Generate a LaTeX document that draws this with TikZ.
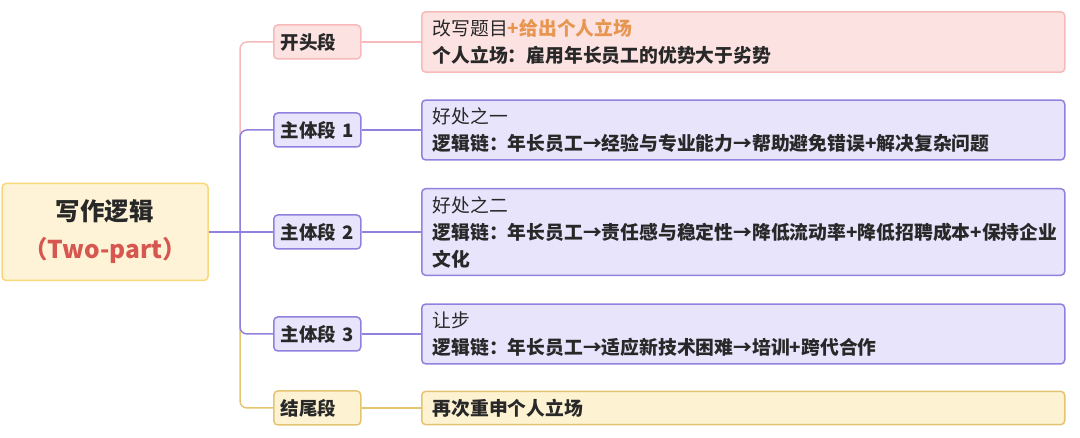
\documentclass[tikz,border=0pt]{standalone}
\usepackage{fontspec}
\setmainfont{Noto Sans CJK SC}
\usepackage{xcolor}
\usepackage{tikz}
\definecolor{txt}{RGB}{40,40,40}
\definecolor{rootfill}{RGB}{254,243,214}
\definecolor{rootline}{RGB}{248,216,120}
\definecolor{redtxt}{RGB}{214,86,80}
\definecolor{orangetxt}{RGB}{230,150,80}
\definecolor{pinkfill}{RGB}{253,226,226}
\definecolor{pinkline}{RGB}{246,186,186}
\definecolor{purplefill}{RGB}{232,228,252}
\definecolor{purpleline}{RGB}{146,128,222}
\definecolor{goldfill}{RGB}{253,242,210}
\definecolor{goldline}{RGB}{228,196,112}

\begin{document}
\begin{tikzpicture}[x=1pt,y=-1pt,
  box/.style={draw,rounded corners=4pt,line width=1.5pt,text=txt},
  rootbox/.style={box,fill=rootfill,draw=rootline,minimum width=206pt,minimum height=97pt,align=center,font=\fontsize{24.5}{38}\selectfont\bfseries},
  branch/.style={box,anchor=west,text width=73pt,inner xsep=7pt,minimum height=34pt,align=left,font=\fontsize{18.5}{22}\selectfont\bfseries},
  leaf/.style={box,anchor=west,text width=621pt,inner xsep=11pt,inner ysep=7.5pt,align=left,font=\fontsize{18.8}{27}\selectfont},
  pinkset/.style={fill=pinkfill,draw=pinkline},
  purpleset/.style={fill=purplefill,draw=purpleline},
  goldset/.style={fill=goldfill,draw=goldline},
  link/.style={line width=1.5pt,rounded corners=7pt}]
\useasboundingbox (0,0) rectangle (1080,438);
%中心
\node[rootbox] (root) at (105,232) {写作逻辑\\{\color{redtxt}（Two-part）}};
\coordinate (hub) at (240,232);
%分支
\node[branch,pinkset] (open) at (273,42) {开头段};
\node[branch,purpleset] (body1) at (273,130) {主体段 1};
\node[branch,purpleset] (body2) at (273,232) {主体段 2};
\node[branch,purpleset] (body3) at (273,334) {主体段 3};
\node[branch,goldset] (close) at (273,408) {结尾段};
%内容
\node[leaf,pinkset] (openleaf) at (421,42) {改写题目{\bfseries\color{orangetxt}+给出个人立场}\\\textbf{个人立场：雇用年长员工的优势大于劣势}};
\node[leaf,purpleset] (body1leaf) at (421,130) {好处之一\\\textbf{逻辑链：年长员工→经验与专业能力→帮助避免错误+解决复杂问题}};
\node[leaf,purpleset] (body2leaf) at (421,232) {好处之二\\\textbf{逻辑链：年长员工→责任感与稳定性→降低流动率+降低招聘成本+保持企业}\\\textbf{文化}};
\node[leaf,purpleset] (body3leaf) at (421,334) {让步\\\textbf{逻辑链：年长员工→适应新技术困难→培训+跨代合作}};
\node[leaf,goldset] (closeleaf) at (421,408) {\textbf{再次重申个人立场}};
%连线
\draw[link,pinkline] (hub) |- (open.west);
\draw[link,goldline] (hub) |- (close.west);
\draw[link,purpleline] (hub) |- (body1.west);
\draw[link,purpleline] (hub) |- (body3.west);
\draw[link,purpleline] (root.east) -- (body2.west);
\draw[link,pinkline] (open.east) -- (openleaf.west);
\draw[link,purpleline] (body1.east) -- (body1leaf.west);
\draw[link,purpleline] (body2.east) -- (body2leaf.west);
\draw[link,purpleline] (body3.east) -- (body3leaf.west);
\draw[link,goldline] (close.east) -- (closeleaf.west);
\end{tikzpicture}
\end{document}
